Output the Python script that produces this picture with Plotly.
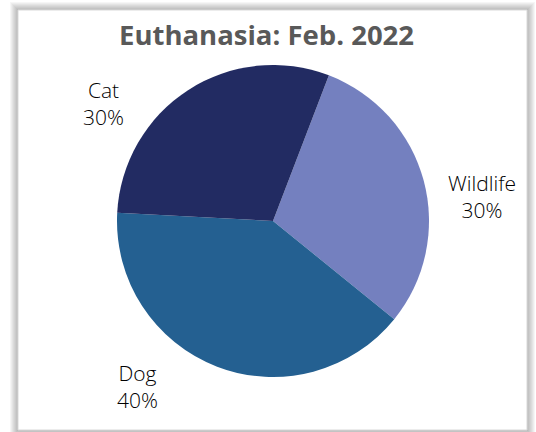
import plotly.graph_objects as go

categories = ["Wildlife", "Dog", "Cat"]
values = [30, 40, 30]
colors = ["#7480BF", "#246091", "#222B62"]
title_text = "Euthanasia: Feb. 2022"

W, H = 536, 432
FONT = "Century Gothic, Open Sans, sans-serif"

def px(x):
    return x / W

def py(y):
    return 1 - y / H

fig = go.Figure()
fig.add_trace(go.Pie(
    labels=categories,
    values=values,
    marker=dict(colors=colors, line=dict(width=0)),
    sort=False,
    direction="clockwise",
    rotation=21,
    textinfo="none",
    hoverinfo="label+percent",
    showlegend=False,
    domain=dict(x=[px(117), px(429)], y=[py(377), py(65)]),
))

# shadow and chart box
shapes = []
for i in range(8, 0, -1):
    shapes.append(dict(type="rect", xref="paper", yref="paper",
                       x0=px(18 - i), x1=px(527 + i), y0=py(430 + i), y1=py(10 - i),
                       line=dict(width=0), fillcolor="rgba(0,0,0,0.035)", layer="below"))
shapes.append(dict(type="rect", xref="paper", yref="paper",
                   x0=px(18), x1=px(527), y0=py(430), y1=py(10),
                   line=dict(color="#D9D9D9", width=1), fillcolor="white", layer="below"))

total = sum(values)
label_pos = {"Cat": (103, 104), "Wildlife": (482, 196), "Dog": (137, 386)}
annotations = []
for c, v in zip(categories, values):
    x, y = label_pos[c]
    annotations.append(dict(
        x=px(x), y=py(y), xref="paper", yref="paper", showarrow=False,
        text=f"{c}<br>{round(100 * v / total)}%",
        font=dict(family=FONT, size=21, color="#000000", weight=300),
        xanchor="center", yanchor="middle", align="center"))
annotations.append(dict(
    x=px(266), y=py(34), xref="paper", yref="paper", showarrow=False,
    text=f"<b>{title_text}</b>",
    font=dict(family=FONT, size=27.5, color="#595959"),
    xanchor="center", yanchor="middle"))

fig.update_layout(
    width=W, height=H,
    margin=dict(l=0, r=0, t=0, b=0),
    paper_bgcolor="white",
    plot_bgcolor="white",
    shapes=shapes,
    annotations=annotations,
)

fig.write_html("out.html", config={"displayModeBar": False},
               post_script="document.body.style.margin='0';")
